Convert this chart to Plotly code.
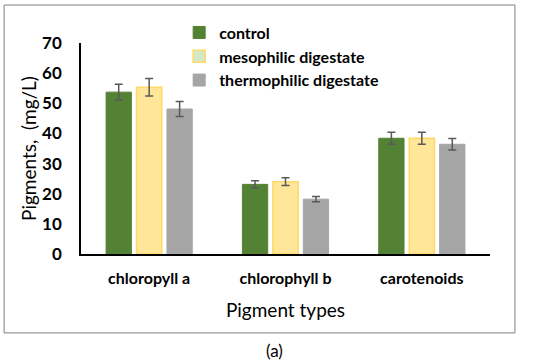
import plotly.graph_objects as go

categories = ["chloropyll a", "chlorophyll b", "carotenoids"]
series_names = ["control", "mesophilic digestate", "thermophilic digestate"]
control = [53.7, 23.1, 38.4]
control_err = [2.6, 1.2, 2.0]
meso = [55.3, 24.0, 38.4]
meso_err = [2.9, 1.3, 2.0]
thermo = [48.1, 18.2, 36.4]
thermo_err = [2.5, 0.9, 1.9]
y_ticks = [0, 10, 20, 30, 40, 50, 60, 70]

FONT = "Lato"
err_style = dict(type="data", thickness=1.5, width=4, color="#595959")

fig = go.Figure()
fig.add_trace(go.Bar(
    name=series_names[0], x=categories, y=control, offsetgroup="c",
    error_y=dict(array=control_err, **err_style),
    marker=dict(color="#548235", line=dict(color="#548235", width=1)),
))
fig.add_trace(go.Bar(
    name=series_names[1], x=categories, y=meso, offsetgroup="m", showlegend=False,
    error_y=dict(array=meso_err, **err_style),
    marker=dict(color="#FFE699", line=dict(color="#FFD966", width=1.5)),
))
# legend swatch for mesophilic (pale green fill with yellow border, as in the original)
fig.add_trace(go.Bar(
    name=series_names[1], x=categories, y=[None] * len(categories), offsetgroup="m",
    marker=dict(color="#D6E9C6", line=dict(color="#FFD966", width=1.5)),
    hoverinfo="skip",
))
fig.add_trace(go.Bar(
    name=series_names[2], x=categories, y=thermo, offsetgroup="t",
    error_y=dict(array=thermo_err, **err_style),
    marker=dict(color="#A5A5A5", line=dict(color="#A5A5A5", width=1)),
))

fig.update_layout(
    width=550, height=364,
    margin=dict(l=81, r=60, t=43, b=110, autoexpand=False),
    paper_bgcolor="white", plot_bgcolor="white",
    barmode="group", bargap=0.33, bargroupgap=0.17,
    font=dict(family=FONT, color="#000000"),
    showlegend=True,
    legend=dict(
        x=0.24, y=1.13, xanchor="left", yanchor="top",
        font=dict(family=FONT, size=16, color="#000000", weight="bold"),
        bgcolor="rgba(0,0,0,0)", tracegroupgap=0, itemwidth=30,
        traceorder="normal",
    ),
    xaxis=dict(
        automargin=False,
        showline=True, linecolor="#000000", linewidth=1.5,
        showgrid=False, ticks="outside", ticklen=9, tickcolor="rgba(0,0,0,0)",
        tickfont=dict(family=FONT, size=16, color="#000000", weight="bold"),
        title=dict(text="Pigment types", font=dict(family=FONT, size=19, color="#000000"), standoff=18),
    ),
    yaxis=dict(
        automargin=False,
        range=[0, 70], tickvals=y_ticks, showline=True, linecolor="#000000", linewidth=1.5,
        showgrid=False, zeroline=False, ticks="outside", ticklen=14, tickcolor="rgba(0,0,0,0)",
        tickfont=dict(family=FONT, size=17, color="#000000", weight="bold"),
        title=dict(text="Pigments,  (mg/L)", font=dict(family=FONT, size=19, color="#000000"), standoff=0),
    ),
    shapes=[dict(type="rect", xref="paper", yref="paper", x0=-0.188, x1=1.061, y0=-0.374, y1=1.18,
                 line=dict(color="#7F7F7F", width=1), fillcolor="rgba(0,0,0,0)", layer="below")],
    annotations=[dict(text="(a)", xref="paper", yref="paper", x=0.474, y=-0.455, yanchor="middle",
                      showarrow=False, font=dict(family=FONT, size=17, color="#000000"))],
)

fig.write_html("out.html", config={"displayModeBar": False},
               post_script="document.body.style.margin='0';")
